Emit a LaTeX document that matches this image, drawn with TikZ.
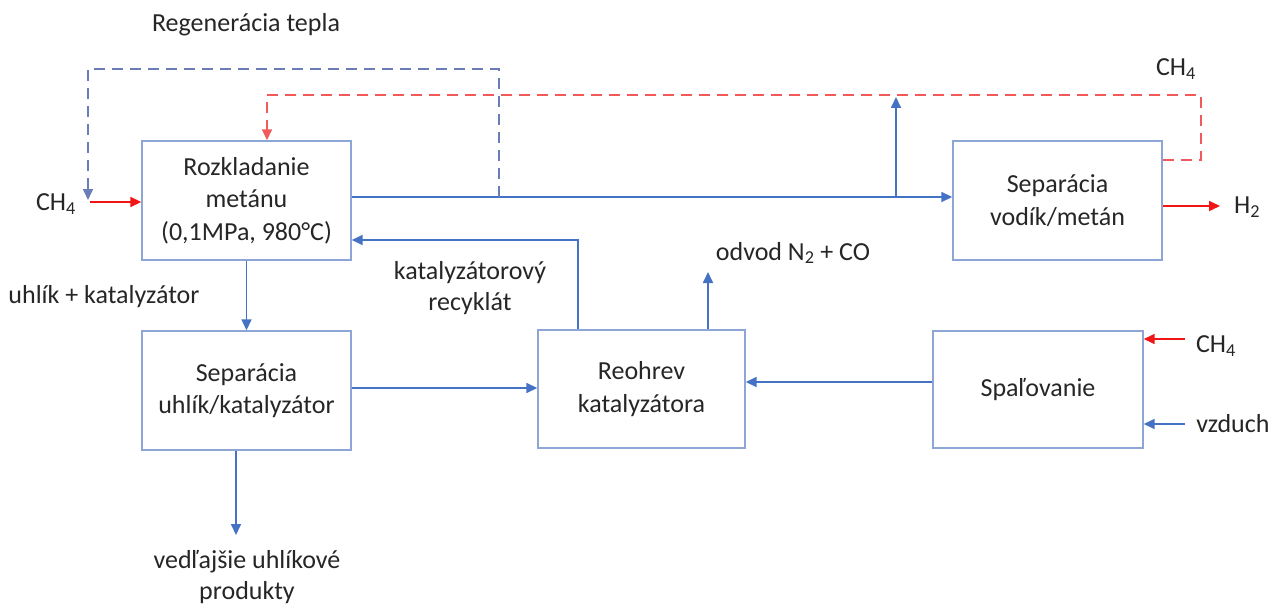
\documentclass[tikz,border=0pt]{standalone}
\usepackage{fontspec}
\setmainfont{Carlito}
\usetikzlibrary{arrows.meta}
\definecolor{flowblue}{HTML}{4472C4}
\definecolor{boxblue}{HTML}{8EA6D6}
\definecolor{loopblue}{HTML}{6A7DB8}
\definecolor{feedred}{HTML}{F21515}
\definecolor{loopred}{HTML}{F05A5A}
\definecolor{txt}{HTML}{262626}
\tikzset{
  unit/.style={draw=boxblue, line width=1.4pt, align=center, inner sep=0pt,
    text=txt, font=\fontsize{26}{32.5}\selectfont},
  lbl/.style={text=txt, align=center, inner sep=0pt, font=\fontsize{26}{31}\selectfont},
  tip/.style={-{Triangle[length=11pt,width=10pt]}},
  flow/.style={tip, draw=flowblue, line width=1.7pt},
  feed/.style={tip, draw=feedred, line width=1.7pt},
  heatloop/.style={tip, draw=loopblue, line width=1.7pt, dash pattern=on 11pt off 7pt},
  gasloop/.style={tip, draw=loopred, line width=1.7pt, dash pattern=on 11pt off 7pt},
}
\newcommand{\chfour}{CH\textsubscript{4}}
\begin{document}
\begin{tikzpicture}[x=1pt,y=-1pt]
\useasboundingbox (0,0) rectangle (1274,607);

% process units
\node[unit, minimum width=209pt, minimum height=119pt] (rozk) at (246.5,200.5)
  {Rozkladanie\\metánu\\(0,1MPa, 980°C)};
\node[unit, minimum width=209pt, minimum height=119pt] (sepvm) at (1057.5,200.5)
  {Separácia\\vodík/metán};
\node[unit, minimum width=209pt, minimum height=119pt] (sepuk) at (246.5,390.5)
  {Separácia\\uhlík/katalyzátor};
\node[unit, minimum width=207pt, minimum height=118pt] (reoh) at (641.5,389)
  {Reohrev\\katalyzátora};
\node[unit, minimum width=210pt, minimum height=117pt] (spal) at (1038,389.5)
  {Spaľovanie};

% stream labels
\node[lbl] (regen) at (246,25) {Regenerácia tepla};
\node[lbl] (chin) at (56,204) {\chfour};
\node[lbl] (chrec) at (1176,69) {\chfour};
\node[lbl] (htwo) at (1247,207) {H\textsubscript{2}};
\node[lbl] (ukat) at (104,297) {uhlík + katalyzátor};
\node[lbl] (recyk) at (470,288) {katalyzátorový\\recyklát};
\node[lbl] (odvod) at (793,253) {odvod N\textsubscript{2} + CO};
\node[lbl] (chfuel) at (1216,346) {\chfour};
\node[lbl] (air) at (1233,424) {vzduch};
\node[lbl] (vedl) at (247,577) {vedľajšie uhlíkové\\produkty};

% free ends and bends
\coordinate (heatTap) at (499,197);
\coordinate (heatEnd) at (88,200);
\coordinate (redStart) at (90,202);
\coordinate (branch) at (896,197);
\coordinate (branchTop) at (896,97);
\coordinate (h2End) at (1220,206);
\coordinate (prodEnd) at (236,535);
\coordinate (offgas) at (708,272);
\coordinate (fuelStart) at (1185,339);
\coordinate (airStart) at (1185,424);

% main gas line and take-off
\draw[flow] (rozk.east |- heatTap) -- (sepvm.west |- heatTap);
\draw[flow] (branch) -- (branchTop);

% heat regeneration loop
\draw[heatloop] (heatTap) -- (499,69) -- (88,69) -- (heatEnd);

% methane recycle
\draw[gasloop] (sepvm.east |- 0,160) -- (1201,160) -- (1201,95) -- (267,95) -- (rozk.north -| 267,0);

% feeds and products
\draw[feed] (redStart) -- (rozk.west |- redStart);
\draw[feed] (sepvm.east |- h2End) -- (h2End);
\draw[feed] (fuelStart) -- (spal.east |- fuelStart);
\draw[flow] (airStart) -- (spal.east |- airStart);

% solids loop
\draw[flow] (rozk.south) -- (sepuk.north);
\draw[flow] (sepuk.east |- 0,388) -- (reoh.west |- 0,388);
\draw[flow] (sepuk.south -| prodEnd) -- (prodEnd);
\draw[flow] (reoh.north -| 578,0) -- (578,240) -- (rozk.east |- 0,240);
\draw[flow] (reoh.north -| offgas) -- (offgas);
\draw[flow] (spal.west |- 0,382) -- (reoh.east |- 0,382);
\end{tikzpicture}
\end{document}
